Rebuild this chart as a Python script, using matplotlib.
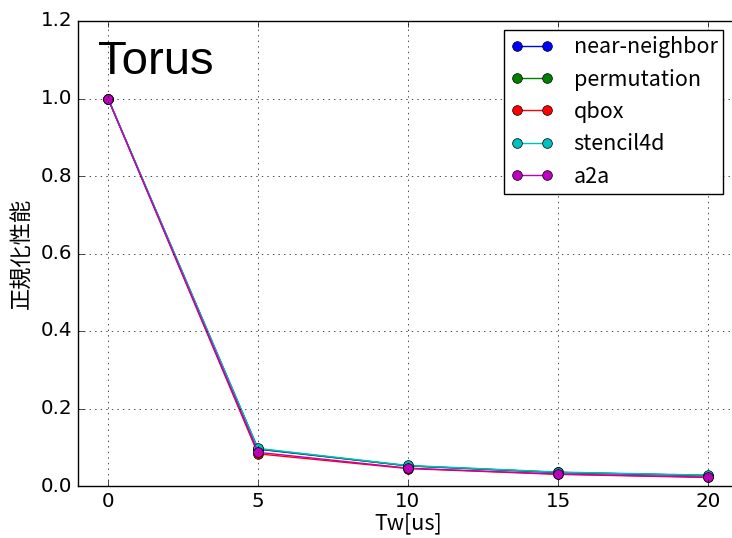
import matplotlib
matplotlib.use("Agg")
import matplotlib.pyplot as plt

tw = [0, 5, 10, 15, 20]
series_names = ["near-neighbor", "permutation", "qbox", "stencil4d", "a2a"]
near_neighbor = [1.0, 0.095, 0.052, 0.035, 0.027]
permutation = [1.0, 0.096, 0.052, 0.035, 0.027]
qbox = [1.0, 0.083, 0.045, 0.030, 0.022]
stencil4d = [1.0, 0.097, 0.053, 0.036, 0.028]
a2a = [1.0, 0.087, 0.046, 0.031, 0.023]
series_values = [near_neighbor, permutation, qbox, stencil4d, a2a]
colors = ["b", "g", "r", "c", "m"]

plt.style.use("classic")
cjk = ["Noto Sans CJK JP", "DejaVu Sans"]

fig = plt.figure(figsize=(7.32, 5.38), dpi=100)
ax = fig.add_axes([78/732, 1-486/538, 660/732, 465/538])

for name, vals, c in zip(series_names, series_values, colors):
    ax.plot(tw, vals, color=c, marker="o", markersize=7, linewidth=1.0, label=name)

ax.set_xlim(-1, 21)
ax.set_ylim(0, 1.2)
ax.set_xticks([0, 5, 10, 15, 20])
ax.set_yticks([0.0, 0.2, 0.4, 0.6, 0.8, 1.0, 1.2])
ax.tick_params(labelsize=14.3)
ax.grid(True)
ax.set_xlabel("Tw[us]", family=cjk, fontsize=15.5, labelpad=1)
ax.set_ylabel("正規化性能", family=cjk, fontsize=16)
ax.text(0.03, 0.96, "Torus", transform=ax.transAxes, fontsize=34,
        family=["Liberation Sans", "DejaVu Sans"], va="top", ha="left")

leg = ax.legend(loc="upper right", numpoints=2, prop={"family": cjk, "size": 15.5},
                bbox_to_anchor=(0.978, 0.98), borderaxespad=0.0,
                borderpad=0.28, labelspacing=0.48, handletextpad=0.95)

fig.savefig("out.png", dpi=100)
